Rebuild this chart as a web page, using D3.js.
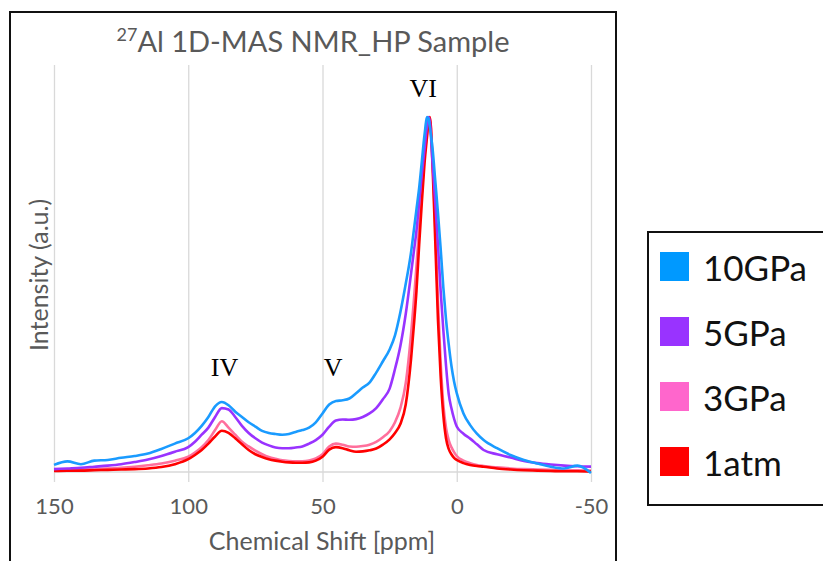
<!DOCTYPE html>
<html>
<head>
<meta charset="utf-8">
<script src="https://cdnjs.cloudflare.com/ajax/libs/d3/7.8.5/d3.min.js"></script>
<style>
  body { margin: 0; background: #fff; }
  svg { display: block; }
</style>
</head>
<body>
<div id="chart"></div>
<script>

// chemical shift grid (ppm), shared by all four spectra
var shift = [150,145,140,135,130,125,120,115,110,105,100,97.5,95,92.5,90,87.5,85,82.5,80,77.5,
  75,72.5,70,67.5,65,62.5,60,57.5,55,52.5,50,47.5,45,42.5,40,37.5,35,32.5,30,27.5,
  25,23,21,19,17,16,15,14,13,12,11,10.5,10,9,8,7,6,5,4,3,2,1,0,
  -2.5,-5,-7.5,-10,-15,-20,-25,-30,-35,-40,-45,-50];

var gpa10 = [0.020,0.030,0.022,0.032,0.034,0.040,0.045,0.052,0.065,0.080,0.095,0.110,0.130,0.155,0.185,0.197,0.188,0.170,0.155,0.140,
  0.128,0.116,0.110,0.107,0.105,0.107,0.113,0.118,0.125,0.140,0.165,0.190,0.200,0.202,0.207,0.222,0.238,0.252,0.280,0.312,
  0.345,0.385,0.450,0.530,0.620,0.680,0.740,0.800,0.875,0.950,1.000,0.995,0.970,0.910,0.820,0.730,0.630,0.520,0.430,0.360,0.300,0.255,0.222,
  0.165,0.132,0.108,0.090,0.067,0.048,0.034,0.024,0.015,0.010,0.018,-0.003];

var gpa5 = [0.008,0.010,0.012,0.015,0.018,0.022,0.028,0.035,0.045,0.057,0.070,0.085,0.105,0.125,0.155,0.180,0.176,0.155,0.130,0.110,
  0.095,0.083,0.075,0.069,0.067,0.067,0.069,0.072,0.080,0.090,0.105,0.128,0.145,0.148,0.147,0.149,0.155,0.165,0.180,0.205,
  0.235,0.290,0.355,0.445,0.560,0.620,0.680,0.760,0.840,0.910,0.980,1.000,0.985,0.870,0.760,0.640,0.510,0.400,0.300,0.220,0.180,0.150,0.128,
  0.108,0.094,0.078,0.062,0.050,0.041,0.031,0.025,0.021,0.018,0.016,0.015];

var gpa3 = [0.006,0.007,0.008,0.009,0.010,0.012,0.015,0.019,0.024,0.032,0.043,0.055,0.070,0.090,0.118,0.143,0.125,0.105,0.085,0.072,
  0.060,0.050,0.042,0.037,0.033,0.031,0.030,0.030,0.032,0.038,0.050,0.072,0.080,0.077,0.072,0.071,0.073,0.077,0.085,0.098,
  0.115,0.140,0.180,0.250,0.390,0.480,0.580,0.690,0.790,0.890,0.960,0.995,0.995,0.880,0.690,0.480,0.310,0.190,0.125,0.090,0.070,0.056,0.045,
  0.032,0.025,0.020,0.017,0.013,0.010,0.008,0.007,0.006,0.005,0.005,0.004];

var atm1 = [0.003,0.004,0.004,0.005,0.006,0.007,0.008,0.010,0.014,0.022,0.036,0.048,0.062,0.080,0.100,0.116,0.110,0.095,0.078,0.062,
  0.050,0.042,0.036,0.032,0.029,0.027,0.026,0.026,0.027,0.032,0.043,0.063,0.070,0.067,0.061,0.057,0.058,0.061,0.066,0.077,
  0.092,0.110,0.135,0.190,0.320,0.410,0.510,0.640,0.760,0.870,0.950,0.990,1.000,0.860,0.650,0.430,0.270,0.160,0.095,0.065,0.050,0.040,0.034,
  0.025,0.020,0.017,0.015,0.010,0.007,0.005,0.004,0.003,0.002,0.002,0.001];

var seriesNames = ['10GPa', '5GPa', '3GPa', '1atm'];
var seriesValues = [gpa10, gpa5, gpa3, atm1];
var lineColors = ['#1a9bff', '#9933ff', '#ff6f9c', '#ff0000'];
var keyColors = ['#0099ff', '#9933ff', '#ff66cc', '#ff0000'];

var xTicks = [150, 100, 50, 0, -50];

// peak labels (site coordination)
var peakNames = ['IV', 'V', 'VI'];
var peakShift = [86.5, 46, 12.5];
var peakLevel = [0.29, 0.29, 1.075];

var W = 823, H = 561;
var svg = d3.select('#chart').append('svg').attr('width', W).attr('height', H);

var x = d3.scaleLinear().domain([150, -50]).range([54, 591]);
var y = d3.scaleLinear().domain([0, 1]).range([472, 117]);

// chart frame
svg.append('rect')
    .attr('x', 10).attr('y', 12)
    .attr('width', 606).attr('height', 570)
    .attr('fill', 'none').attr('stroke', '#111').attr('stroke-width', 2);

svg.append('text')
    .attr('x', 313).attr('y', 52)
    .attr('text-anchor', 'middle')
    .attr('font-family', 'Lato, sans-serif')
    .attr('font-size', '29px')
    .attr('fill', '#595959')
    .call(function(t) {
        t.append('tspan').attr('font-size', '18px').attr('dy', -11).text('27');
        t.append('tspan').attr('dy', 11).text('Al 1D-MAS NMR_HP Sample');
    });

// grid + ticks
var gx = svg.append('g')
    .attr('transform', 'translate(0,482)')
    .call(d3.axisBottom(x).tickValues(xTicks).tickSize(-417).tickPadding(16)
        .tickFormat(function(d) { return String(d); }));
gx.select('.domain').remove();
gx.selectAll('line').attr('stroke', '#d9d9d9').attr('stroke-width', 1.3);
gx.selectAll('text')
    .attr('font-family', 'Lato, sans-serif')
    .attr('font-size', '22px')
    .attr('fill', '#595959');

svg.append('line')
    .attr('x1', x(150)).attr('x2', x(-50))
    .attr('y1', y(0)).attr('y2', y(0))
    .attr('stroke', '#d9d9d9').attr('stroke-width', 1.5);

svg.append('text')
    .attr('x', 322).attr('y', 550)
    .attr('text-anchor', 'middle')
    .attr('font-family', 'Lato, sans-serif')
    .attr('font-size', '25px')
    .attr('fill', '#595959')
    .text('Chemical Shift [ppm]');

svg.append('text')
    .attr('transform', 'translate(48,275) rotate(-90)')
    .attr('text-anchor', 'middle')
    .attr('font-family', 'Lato, sans-serif')
    .attr('font-size', '25px')
    .attr('fill', '#595959')
    .text('Intensity (a.u.)');

var line = d3.line()
    .x(function(d, i) { return x(shift[i]); })
    .y(function(d) { return y(d); })
    .curve(d3.curveMonotoneX);

var drawOrder = [2, 3, 1, 0];
drawOrder.forEach(function(k) {
    svg.append('path')
        .attr('d', line(seriesValues[k]))
        .attr('fill', 'none')
        .attr('stroke', lineColors[k])
        .attr('stroke-width', 2.6)
        .attr('stroke-linejoin', 'round');
});

peakNames.forEach(function(n, i) {
    svg.append('text')
        .attr('x', x(peakShift[i])).attr('y', y(peakLevel[i]) + 7)
        .attr('text-anchor', 'middle')
        .attr('font-family', '"Liberation Serif", serif')
        .attr('font-size', '26px')
        .attr('fill', '#000')
        .text(n);
});

// legend
svg.append('rect')
    .attr('x', 648).attr('y', 232)
    .attr('width', 190).attr('height', 273)
    .attr('fill', '#fff').attr('stroke', '#111').attr('stroke-width', 2);

seriesNames.forEach(function(n, i) {
    var cy = 267 + i * 65;
    svg.append('rect')
        .attr('x', 660).attr('y', cy - 15)
        .attr('width', 29).attr('height', 29)
        .attr('fill', keyColors[i]);
    svg.append('text')
        .attr('x', 703).attr('y', cy + 14)
        .attr('font-family', 'Lato, sans-serif')
        .attr('font-size', '35px')
        .attr('fill', '#111')
        .text(n);
});

</script>
</body>
</html>
